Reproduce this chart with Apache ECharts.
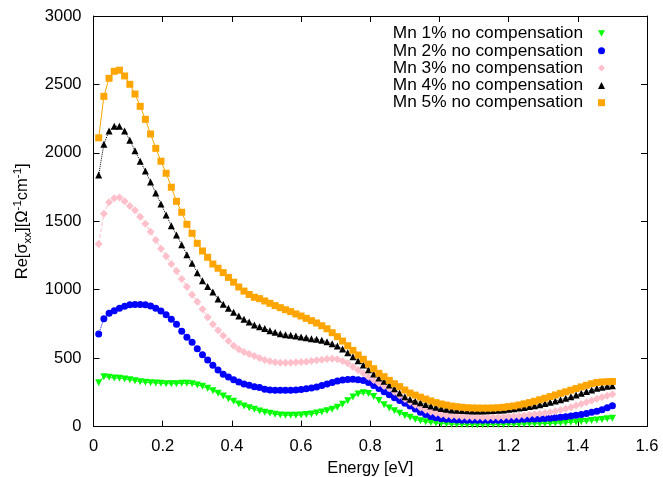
<!DOCTYPE html>
<html>
<head>
<meta charset="utf-8">
<script src="https://cdn.jsdelivr.net/npm/echarts@6/dist/echarts.min.js"></script>
<style>html,body{margin:0;padding:0;background:#fff}#c{width:663px;height:477px}</style>
</head>
<body>
<div id="c"></div>
<script>
var energy = [0.015,0.03,0.045,0.06,0.075,0.09,0.105,0.12,0.135,0.15,0.165,0.18,0.195,0.21,0.225,0.24,0.255,0.27,0.285,0.3,0.315,0.33,0.345,0.36,0.375,0.39,0.405,0.42,0.435,0.45,0.465,0.48,0.495,0.51,0.525,0.54,0.555,0.57,0.585,0.6,0.615,0.63,0.645,0.66,0.675,0.69,0.705,0.72,0.735,0.75,0.765,0.78,0.795,0.81,0.825,0.84,0.855,0.87,0.885,0.9,0.915,0.93,0.945,0.96,0.975,0.99,1.005,1.02,1.035,1.05,1.065,1.08,1.095,1.11,1.125,1.14,1.155,1.17,1.185,1.2,1.215,1.23,1.245,1.26,1.275,1.29,1.305,1.32,1.335,1.35,1.365,1.38,1.395,1.41,1.425,1.44,1.455,1.47,1.485,1.5];

var mn1 = [321,365,360,355,353,348,343,335,328,324,321,319,316,313,313,313,316,316,313,304,294,280,262,243,224,204,185,165,151,137,126,114,
104,97,90,85,83,83,83,85,88,92,99,107,116,127,142,163,189,216,239,248,241,220,191,160,136,116,97,82,
68,53,42,35,30,26,23,20,18,17,16,15,14,14,14,14,15,15,16,17,17,18,19,20,20,21,22,23,25,26,28,31,34,37,40,44,48,52,57,61];

var mn2 = [677,788,828,847,864,879,891,893,893,891,881,864,845,818,784,748,696,652,616,569,525,487,448,414,382,362,343,326,311,302,292,285,
272,267,265,265,265,265,267,271,276,282,290,300,311,322,333,341,345,346,343,336,322,301,279,255,232,211,190,170,
150,128,105,88,74,64,58,54,51,49,47,46,46,46,46,46,46,47,47,48,49,51,53,55,56,57,59,61,64,68,72,78,83,89,96,104,113,124,137,152];

var mn3 = [1334,1556,1639,1668,1673,1646,1612,1580,1534,1483,1424,1364,1300,1244,1188,1136,
1079,1022,964,913,857,799,748,704,664,625,591,565,545,530,516,501,487,477,470,467,467,467,470,472,474,479,484,489,494,496,492,479,462,438,414,389,365,341,316,297,280,255,228,202,
180,160,140,122,108,97,88,82,78,75,72,70,68,68,67,67,68,69,71,73,75,78,82,86,90,94,99,105,113,121,131,142,154,166,178,190,203,215,226,236];

var mn4 = [1838,2063,2160,2194,2194,2160,2092,2016,1938,1868,1787,1707,1627,1546,1468,1400,1329,1256,1193,
1125,1065,1024,983,932,894,864,835,808,784,765,742,730,716,701,689,679,672,667,662,655,650,642,638,631,620,606,589,567,540,511,482,450,416,384,355,331,304,277,245,218,
200,186,174,162,151,141,132,126,122,119,117,115,114,114,114,115,117,119,122,126,130,135,140,146,153,160,168,177,187,197,207,218,230,243,256,268,280,288,294,298];

var mn5 = [2110,2413,2545,2596,2604,2562,2501,2430,2340,2245,2138,2033,1939,1851,1749,1646,1566,1478,1412,1339,1283,1237,1188,1157,1125,1090,1055,1020,990,965,
945,935,918,901,884,869,854,840,823,808,791,774,757,737,715,686,657,625,591,557,523,492,457,423,389,365,338,313,292,267,
245,230,215,201,188,175,165,157,150,145,141,138,136,135,135,135,136,138,141,146,151,158,166,175,185,196,207,219,231,243,254,266,278,290,302,313,322,326,328,330];

var seriesNames = ['Mn 1% no compensation','Mn 2% no compensation','Mn 3% no compensation','Mn 4% no compensation','Mn 5% no compensation'];
var xTicks = {min: 0, max: 1.6, interval: 0.2};
var yTicks = {min: 0, max: 3000, interval: 500};

function pairs(ys){ return energy.map(function(x,i){ return [x, ys[i]]; }); }

var FONT = 'Liberation Sans, Arial, Helvetica, sans-serif';
var downTri = 'path://M0,0 L10,0 L5,9 Z';

var styles = [
  {color:'#00ff00', symbol:'triangle', rotate:180, size:7, line:'solid'},
  {color:'#0000ff', symbol:'circle', rotate:0, size:7, line:'dotted'},
  {color:'#ffc0cb', symbol:'diamond', rotate:0, size:8, line:'dashed'},
  {color:'#000000', symbol:'triangle', rotate:0, size:7, line:'dotted'},
  {color:'#ffa500', symbol:'rect', rotate:0, size:7, line:'solid'}
];
var dataSets = [mn1, mn2, mn3, mn4, mn5];

var series = dataSets.map(function(d, k){
  var s = styles[k];
  return {
    name: seriesNames[k], type: 'line', xAxisIndex: 0, yAxisIndex: 0,
    data: pairs(d),
    symbol: s.symbol, symbolSize: s.size, symbolRotate: s.rotate, showAllSymbol: true,
    itemStyle: {color: s.color},
    lineStyle: {color: s.color, width: 1, type: s.line},
    animation: false
  };
});

var chart = echarts.init(document.getElementById('c'));
var tickStyle = {show:true, inside:true, length:6, lineStyle:{color:'#000', width:1}};
var plain = function(v){ return String(v); };
chart.setOption({
  animation: false,
  backgroundColor: '#fff',
  textStyle: {fontFamily: FONT},
  grid: {left: 93.5, right: 16, top: 16, bottom: 50.4, containLabel: false, outerBoundsMode: 'none'},
  legend: {
    orient: 'vertical', align: 'right', right: 53, top: 20,
    itemWidth: 7, itemHeight: 7, itemGap: 0.3,
    textStyle: {fontFamily: FONT, fontSize: 17.3, color: '#000', lineHeight: 17, padding: [0, 10, 0, 0]},
    data: [
      {name: seriesNames[0], icon: downTri},
      {name: seriesNames[1], icon: 'circle'},
      {name: seriesNames[2], icon: 'diamond'},
      {name: seriesNames[3], icon: 'triangle'},
      {name: seriesNames[4], icon: 'rect'}
    ]
  },
  xAxis: [
    {type:'value', min:xTicks.min, max:xTicks.max, interval:xTicks.interval, position:'bottom',
     name:'Energy [eV]', nameLocation:'middle', nameGap:31,
     nameTextStyle:{fontFamily:FONT, fontSize:16.5, color:'#000'},
     axisLine:{show:true, onZero:false, lineStyle:{color:'#000', width:1}},
     axisTick:tickStyle, splitLine:{show:false},
     axisLabel:{fontFamily:FONT, fontSize:16.5, color:'#000', margin:11, formatter: plain}},
    {type:'value', min:xTicks.min, max:xTicks.max, interval:xTicks.interval, position:'top',
     axisLine:{show:true, onZero:false, lineStyle:{color:'#000', width:1}},
     axisTick:tickStyle, splitLine:{show:false}, axisLabel:{show:false}}
  ],
  yAxis: [
    {type:'value', min:yTicks.min, max:yTicks.max, interval:yTicks.interval, position:'left',
     name:'{a|Re[σ}{s|xx}{a|][Ω}{p|-1}{a|cm}{p|-1}{a|]}', nameLocation:'middle', nameGap:52, nameRotate:90,
     nameTextStyle:{fontFamily:FONT, fontSize:16, color:'#000',
       rich:{
         a:{fontFamily:FONT, fontSize:16.5, color:'#000', lineHeight:22},
         s:{fontFamily:FONT, fontSize:11.5, color:'#000', lineHeight:11, verticalAlign:'bottom'},
         p:{fontFamily:FONT, fontSize:11.5, color:'#000', lineHeight:11, verticalAlign:'top'}
       }},
     axisLine:{show:true, onZero:false, lineStyle:{color:'#000', width:1}},
     axisTick:tickStyle, splitLine:{show:false},
     axisLabel:{fontFamily:FONT, fontSize:16.5, color:'#000', margin:12, formatter: plain}},
    {type:'value', min:yTicks.min, max:yTicks.max, interval:yTicks.interval, position:'right',
     axisLine:{show:true, onZero:false, lineStyle:{color:'#000', width:1}},
     axisTick:tickStyle, splitLine:{show:false}, axisLabel:{show:false}}
  ],
  series: series
});
</script>
</body>
</html>
